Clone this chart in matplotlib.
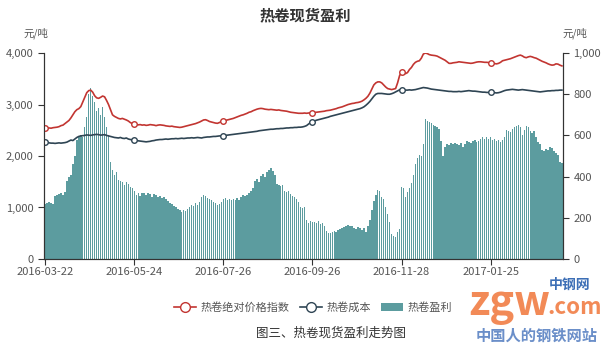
import numpy as np
import matplotlib
matplotlib.use("Agg")
import matplotlib.pyplot as plt
from matplotlib.lines import Line2D
from matplotlib.patches import Patch
from matplotlib.ticker import FuncFormatter

plt.rcParams['font.family'] = ['Noto Sans CJK SC', 'DejaVu Sans']

# x-axis labels (one every 45 trading days)
tick_labels = ['2016-03-22', '2016-05-24', '2016-07-26', '2016-09-26', '2016-11-28', '2017-01-25']
tick_step = 45

# 热卷绝对价格指数 (元/吨, left axis)
price = [
    2540, 2535, 2545, 2540, 2550, 2555, 2560, 2570, 2590, 2600,
    2630, 2660, 2690, 2740, 2800, 2860, 2900, 2920, 2960, 3050,
    3140, 3230, 3270, 3280, 3240, 3170, 3130, 3120, 3140, 3165,
    3150, 3080, 3000, 2900, 2800, 2770, 2750, 2730, 2720, 2730,
    2715, 2700, 2680, 2650, 2630,
    2615, 2610, 2605, 2610, 2600, 2605, 2595, 2600, 2610, 2605,
    2600, 2590, 2600, 2605, 2600, 2595, 2585, 2580, 2575, 2580,
    2570, 2565, 2560, 2555, 2560, 2570, 2580, 2590, 2600, 2610,
    2620, 2630, 2645, 2660, 2680, 2700, 2705, 2690, 2670, 2660,
    2650, 2640, 2635, 2650, 2670,
    2680, 2690, 2700, 2710, 2720, 2730, 2745, 2760, 2775, 2790,
    2800, 2815, 2830, 2850, 2860, 2880, 2895, 2910, 2920, 2925,
    2920, 2910, 2905, 2900, 2905, 2900, 2895, 2890, 2895, 2885,
    2880, 2875, 2870, 2860, 2850, 2845, 2840, 2835, 2830, 2830,
    2830, 2835, 2830, 2835, 2840,
    2840, 2845, 2850, 2855, 2860, 2865, 2870, 2880, 2885, 2890,
    2900, 2910, 2920, 2935, 2945, 2955, 2970, 2985, 3000, 3010,
    3020, 3025, 3035, 3040, 3050, 3065, 3090, 3120, 3160, 3220,
    3300, 3380, 3420, 3440, 3440, 3420, 3380, 3340, 3310, 3300,
    3290, 3300, 3310, 3420, 3560,
    3630, 3640, 3600, 3620, 3680, 3720, 3780, 3820, 3840, 3850,
    3900, 3980, 4000, 3990, 3970, 3960, 3955, 3950, 3940, 3920,
    3900, 3880, 3860, 3830, 3800, 3800, 3810, 3815, 3820, 3830,
    3825, 3820, 3815, 3810, 3805, 3800, 3805, 3815, 3825, 3830,
    3830, 3825, 3820, 3820, 3815,
    3810, 3800, 3795, 3790, 3800, 3820, 3850, 3860, 3870, 3880,
    3890, 3905, 3920, 3935, 3950, 3960, 3945, 3920, 3910, 3925,
    3935, 3925, 3910, 3900, 3880, 3860, 3840, 3825, 3810, 3790,
    3775, 3765, 3770, 3790, 3785, 3765, 3750,
]

# 热卷成本 (元/吨, left axis)
cost = [
    2275, 2260, 2255, 2250, 2250, 2245, 2250, 2255, 2250, 2255,
    2260, 2270, 2290, 2310, 2300, 2330, 2360, 2380, 2390, 2395,
    2400, 2410, 2405, 2400, 2410, 2415, 2420, 2415, 2405, 2410,
    2415, 2400, 2390, 2380, 2370, 2360, 2355, 2350, 2360, 2345,
    2340, 2350, 2330, 2320, 2315,
    2310, 2300, 2295, 2290, 2285, 2280, 2275, 2280, 2285, 2295,
    2300, 2310, 2315, 2320, 2320, 2325, 2330, 2325, 2330, 2335,
    2335, 2340, 2335, 2340, 2345, 2340, 2345, 2350, 2350, 2355,
    2350, 2355, 2360, 2355, 2350, 2360, 2365, 2370, 2370, 2375,
    2380, 2380, 2385, 2390, 2390,
    2395, 2400, 2405, 2410, 2415, 2420, 2425, 2430, 2435, 2440,
    2445, 2450, 2455, 2460, 2465, 2470, 2475, 2480, 2490, 2495,
    2500, 2505, 2510, 2515, 2520, 2520, 2525, 2530, 2530, 2535,
    2535, 2540, 2545, 2545, 2550, 2550, 2555, 2555, 2560, 2560,
    2565, 2575, 2590, 2620, 2650,
    2665, 2680, 2695, 2705, 2715, 2725, 2735, 2745, 2755, 2770,
    2780, 2790, 2800, 2810, 2820, 2830, 2840, 2850, 2860, 2870,
    2880, 2890, 2900, 2910, 2920, 2935, 2955, 2985, 3020, 3060,
    3110, 3160, 3200, 3215, 3215, 3215, 3210, 3205, 3200, 3200,
    3210, 3225, 3245, 3265, 3285,
    3290, 3285, 3280, 3280, 3285, 3280, 3285, 3290, 3300, 3310,
    3320, 3330, 3325, 3320, 3310, 3300, 3295, 3290, 3285, 3280,
    3275, 3270, 3265, 3260, 3255, 3255, 3250, 3250, 3250, 3255,
    3250, 3255, 3260, 3265, 3270, 3265, 3260, 3260, 3255, 3250,
    3245, 3240, 3240, 3235, 3235,
    3235, 3230, 3230, 3225, 3230, 3240, 3255, 3270, 3280, 3285,
    3290, 3295, 3290, 3285, 3280, 3285, 3290, 3285, 3280, 3275,
    3270, 3265, 3260, 3255, 3250, 3245, 3250, 3255, 3260, 3265,
    3265, 3270, 3270, 3275, 3275, 3280, 3280,
]

# 热卷盈利 (元/吨, right axis)
profit = [
    265, 270, 275, 272, 268, 305, 312, 315, 318, 312,
    325, 380, 400, 410, 460, 500, 580, 595, 600, 590,
    640, 690, 800, 830, 790, 760, 720, 735, 700, 740,
    690, 640, 600, 470, 430, 410, 420, 385, 380, 375,
    360, 372, 365, 350, 345,
    330, 310, 318, 305, 318, 322, 312, 320, 316, 302,
    315, 310, 300, 305, 295, 300, 290, 282, 272, 265,
    258, 252, 245, 240, 230, 238, 232, 242, 250, 262,
    258, 270, 262, 275, 300, 312, 305, 298, 290, 285,
    275, 270, 262, 268, 278,
    290, 295, 288, 292, 285, 290, 288, 295, 285, 300,
    310, 305, 312, 318, 330, 345, 380, 390, 375, 405,
    415, 400, 420, 430, 440, 425, 410, 365, 360, 355,
    360, 330, 325, 330, 315, 305, 300, 290, 275, 250,
    248, 250, 190, 175, 185,
    180, 178, 175, 185, 172, 175, 160, 135, 128, 125,
    132, 135, 130, 140, 145, 150, 155, 160, 165, 158,
    160, 150, 145, 155, 148, 140, 152, 130, 160, 190,
    240, 280, 310, 335, 330, 300, 290, 250, 220, 180,
    120, 110, 105, 130, 145,
    350, 345, 300, 325, 345, 370, 410, 460, 490, 505,
    500, 560, 680, 670, 665, 660, 650, 645, 640, 630,
    575, 500, 545, 560, 555, 565, 560, 565, 560, 555,
    565, 545, 560, 575, 570, 565, 575, 580, 570, 575,
    585, 590, 585, 590, 585,
    590, 580, 585, 575, 580, 570, 580, 590, 625, 620,
    615, 630, 640, 645, 650, 640, 600, 625, 645, 640,
    620, 610, 620, 590, 570, 560, 530, 525, 535, 530,
    545, 540, 525, 515, 505, 470, 465,
]

red = '#c23531'
dark = '#2f4554'
teal = '#5c9c9f'
axis_col = '#333333'
txt_col = '#555555'

x = np.arange(len(profit))
mark_idx = list(range(0, len(x), tick_step))

fig = plt.figure(figsize=(6.1, 3.49), dpi=100)
ax = fig.add_axes([0.0721, 0.258, 0.851, 0.590])
axr = ax.twinx()
axr.set_zorder(ax.get_zorder() - 1)
ax.patch.set_visible(False)

axr.bar(x, profit, width=0.72, color=teal, edgecolor='none')
axr.set_ylim(0, 1000)
axr.set_yticks([0, 200, 400, 600, 800, 1000])

ax.plot(x, price, color=red, lw=1.2, marker='o', markevery=mark_idx,
        markersize=4, markerfacecolor='white', markeredgecolor=red, markeredgewidth=1)
ax.plot(x, cost, color=dark, lw=1.2, marker='o', markevery=mark_idx,
        markersize=4, markerfacecolor='white', markeredgecolor=dark, markeredgewidth=1)
ax.set_ylim(0, 4000)
ax.set_yticks([0, 1000, 2000, 3000, 4000])
ax.set_xlim(-0.6, len(x) - 0.4)
ax.set_xticks(mark_idx)
ax.set_xticklabels(tick_labels)

fmt = FuncFormatter(lambda v, p: f'{int(v):,}')
ax.yaxis.set_major_formatter(fmt)
axr.yaxis.set_major_formatter(fmt)

for a in (ax, axr):
    a.spines['top'].set_visible(False)
    for s in ('left', 'right', 'bottom'):
        a.spines[s].set_color(axis_col)
        a.spines[s].set_linewidth(0.8)
    a.tick_params(colors=axis_col, labelcolor=txt_col, labelsize=8, length=4, width=0.8)
ax.tick_params(axis='x', pad=2)

fig.text(0.5, 0.955, '热卷现货盈利', ha='center', va='center', fontsize=11,
         fontweight='bold', color='#333333')
fig.text(0.059, 0.905, '元/吨', ha='center', va='center', fontsize=7.5, color=txt_col)
fig.text(0.943, 0.905, '元/吨', ha='center', va='center', fontsize=7.5, color=txt_col)

handles = [
    Line2D([], [], color=red, lw=1.2, marker='o', markersize=7,
           markerfacecolor='white', markeredgecolor=red),
    Line2D([], [], color=dark, lw=1.2, marker='o', markersize=7,
           markerfacecolor='white', markeredgecolor=dark),
    Patch(facecolor=teal, edgecolor='none'),
]
fig.legend(handles, ['热卷绝对价格指数', '热卷成本', '热卷盈利'], loc='center',
           bbox_to_anchor=(0.513, 0.12), ncol=3, frameon=False, fontsize=8,
           handlelength=2.0, handletextpad=0.4, columnspacing=0.9, labelcolor=txt_col)

fig.text(0.543, 0.045, '图三、热卷现货盈利走势图', ha='center', va='center',
         fontsize=9, color='#333333')

# site watermark, bottom right
fig.text(0.768, 0.07, 'zgw', ha='left', va='bottom', fontsize=30, fontweight='bold',
         fontstyle='italic', color='#f28a57')
fig.text(0.897, 0.085, '.com', ha='left', va='bottom', fontsize=16, fontweight='bold',
         color='#f28a57')
fig.text(0.9, 0.165, '中钢网', ha='left', va='bottom', fontsize=10, fontweight='bold',
         color='#3d6fb6')
fig.text(0.879, 0.037, '中国人的钢铁网站', ha='center', va='center', fontsize=11,
         fontweight='bold', color='#6b8fc9')

fig.savefig('out.png', dpi=100)
